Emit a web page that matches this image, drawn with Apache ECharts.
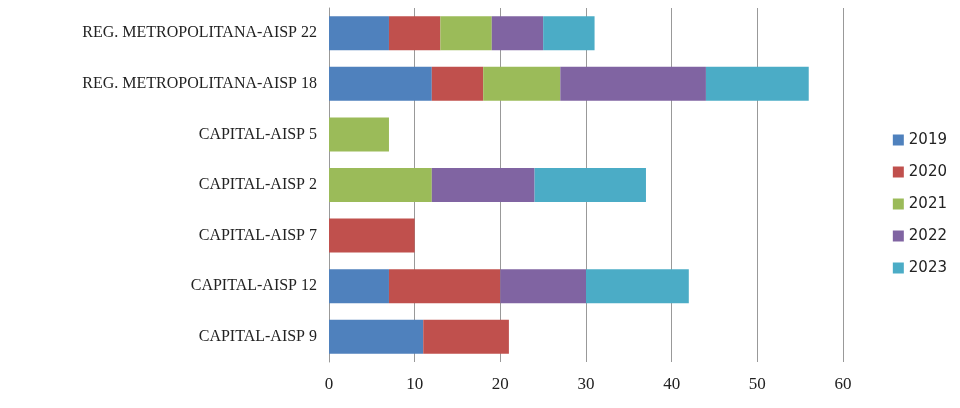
<!DOCTYPE html>
<html><head><meta charset="utf-8">
<script src="https://cdn.jsdelivr.net/npm/echarts@6/dist/echarts.min.js"></script>
<style>html,body{margin:0;padding:0;background:#fff}#main{width:960px;height:408px}</style>
</head><body><div id="main"></div>
<script>
var categories = ['CAPITAL-AISP 9','CAPITAL-AISP 12','CAPITAL-AISP 7','CAPITAL-AISP 2','CAPITAL-AISP 5','REG. METROPOLITANA-AISP 18','REG. METROPOLITANA-AISP 22'];
var years = ['2019','2020','2021','2022','2023'];
var v2019 = [11, 7, 0, 0, 0, 12, 7];
var v2020 = [10, 13, 10, 0, 0, 6, 6];
var v2021 = [0, 0, 0, 12, 7, 9, 6];
var v2022 = [0, 10, 0, 12, 0, 17, 6];
var v2023 = [0, 12, 0, 13, 0, 12, 6];
var colors = ['#4F81BD','#C0504D','#9BBB59','#8064A2','#4BACC6'];

var chart = echarts.init(document.getElementById('main'));
var allData = [v2019, v2020, v2021, v2022, v2023];
var series = years.map(function (y, i) {
  return {
    name: y, type: 'bar', stack: 'total', barWidth: 34,
    itemStyle: { color: colors[i] },
    data: allData[i].map(function (v) { return v === 0 ? null : v; })
  };
});
chart.setOption({
  animation: false,
  legend: {
    orient: 'vertical', right: 8, top: 'middle', itemGap: 17,
    itemWidth: 11, itemHeight: 11, icon: 'rect',
    textStyle: { fontFamily: 'DejaVu Sans', fontSize: 15, color: '#222' },
    data: years
  },
  grid: { left: 329, right: 117, top: 8, bottom: 46 },
  xAxis: {
    type: 'value', min: 0, max: 60, interval: 10,
    axisLine: { show: false }, axisTick: { show: false },
    splitLine: { lineStyle: { color: '#999' } },
    axisLabel: { fontFamily: 'Liberation Serif', fontSize: 17, color: '#222', margin: 14 }
  },
  yAxis: {
    type: 'category', data: categories,
    axisLine: { lineStyle: { color: '#999' } }, axisTick: { show: false },
    axisLabel: { fontFamily: 'Liberation Serif', fontSize: 16, color: '#222', margin: 12 }
  },
  series: series
});
</script></body></html>
